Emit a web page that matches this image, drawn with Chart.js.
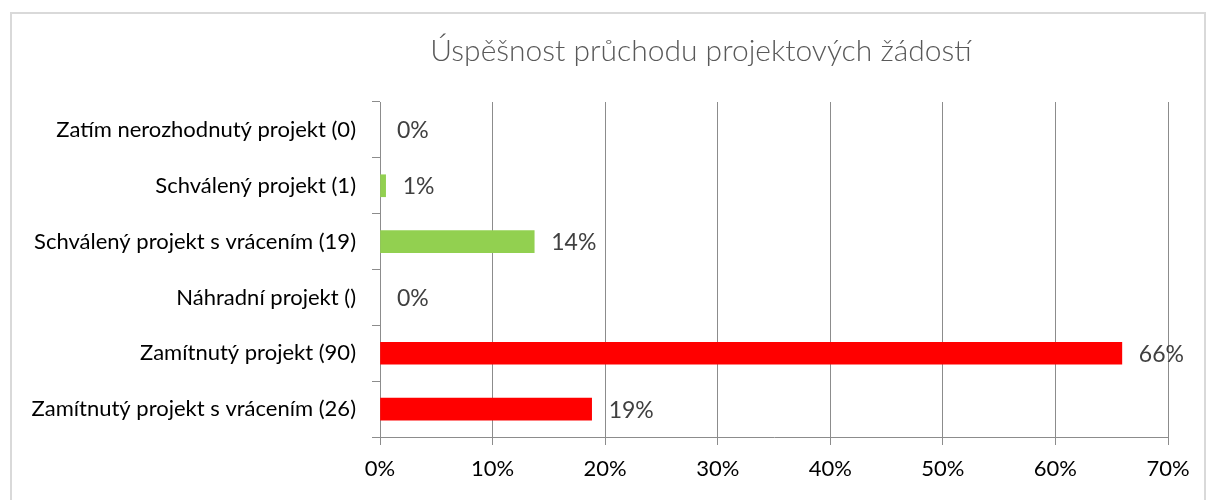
<!DOCTYPE html>
<html>
<head>
<meta charset="utf-8">
<script src="https://cdn.jsdelivr.net/npm/chart.js@4/dist/chart.umd.min.js"></script>
<style>
  body { margin: 0; background: #fff; }
  .frame { position: absolute; left: 10px; top: 12px; width: 1196px; height: 520px; border: 2px solid #d9d9d9; box-sizing: border-box; }
  .wrap { position: absolute; left: 0; top: 0; width: 1208px; height: 500px; }
</style>
</head>
<body>
<div class="frame"></div>
<div class="wrap"><canvas id="resultChart" width="1208" height="500"></canvas></div>
<script>
const chartTitle = "Úspěšnost průchodu projektových žádostí";
const categories = [
  "Zatím nerozhodnutý projekt (0)",
  "Schválený projekt (1)",
  "Schválený projekt s vrácením (19)",
  "Náhradní projekt ()",
  "Zamítnutý projekt (90)",
  "Zamítnutý projekt s vrácením (26)"
];
const shares = [0, 0.5, 13.7, 0, 65.9, 18.8];
const barColors = ["#92d050", "#92d050", "#92d050", "#ff0000", "#ff0000", "#ff0000"];
const xTicks = [0, 10, 20, 30, 40, 50, 60, 70];

const titlePlugin = {
  id: "titleText",
  afterDraw(chart) {
    const ctx = chart.ctx;
    ctx.save();
    ctx.font = "300 30px Lato";
    ctx.fillStyle = "#595959";
    ctx.textAlign = "center";
    ctx.textBaseline = "middle";
    ctx.fillText(chartTitle, 701, 51);
    ctx.restore();
  }
};

const valueLabels = {
  id: "valueLabels",
  afterDatasetsDraw(chart) {
    const ctx = chart.ctx;
    const meta = chart.getDatasetMeta(0);
    ctx.save();
    ctx.font = "23px Lato";
    ctx.fillStyle = "#404040";
    ctx.textAlign = "left";
    ctx.textBaseline = "middle";
    meta.data.forEach((bar, i) => {
      ctx.fillText(Math.round(shares[i]) + "%", bar.x + 17, bar.y + 1);
    });
    ctx.restore();
  }
};

new Chart(document.getElementById("resultChart"), {
  type: "bar",
  data: {
    labels: categories,
    datasets: [{
      data: shares,
      backgroundColor: (c) => (shares[c.dataIndex] > 0 ? barColors[c.dataIndex] : "rgba(0,0,0,0)"),
      barThickness: 22
    }]
  },
  options: {
    indexAxis: "y",
    responsive: false,
    animation: false,
    layout: { padding: { top: 102, right: 40, left: 0, bottom: 0 } },
    plugins: { legend: { display: false }, tooltip: { enabled: false } },
    scales: {
      x: {
        min: 0,
        max: 70,
        afterBuildTicks: (axis) => { axis.ticks = xTicks.map((v) => ({ value: v })); },
        afterFit: (axis) => { axis.height = 63; },
        grid: { color: "#8c8c8c", tickLength: 8, lineWidth: 1 },
        border: { color: "#8c8c8c" },
        ticks: {
          callback: (v) => v + "%",
          color: "#000",
          font: { family: "Lato", size: 22 },
          padding: 11,
          maxRotation: 0
        }
      },
      y: {
        afterFit: (axis) => { axis.width = 380; },
        grid: { drawOnChartArea: false, color: "#8c8c8c", tickLength: 8, offset: true },
        border: { color: "#8c8c8c" },
        ticks: { color: "#000", font: { family: "Lato", size: 22 }, padding: 16 }
      }
    }
  },
  plugins: [titlePlugin, valueLabels]
});
</script>
</body>
</html>
